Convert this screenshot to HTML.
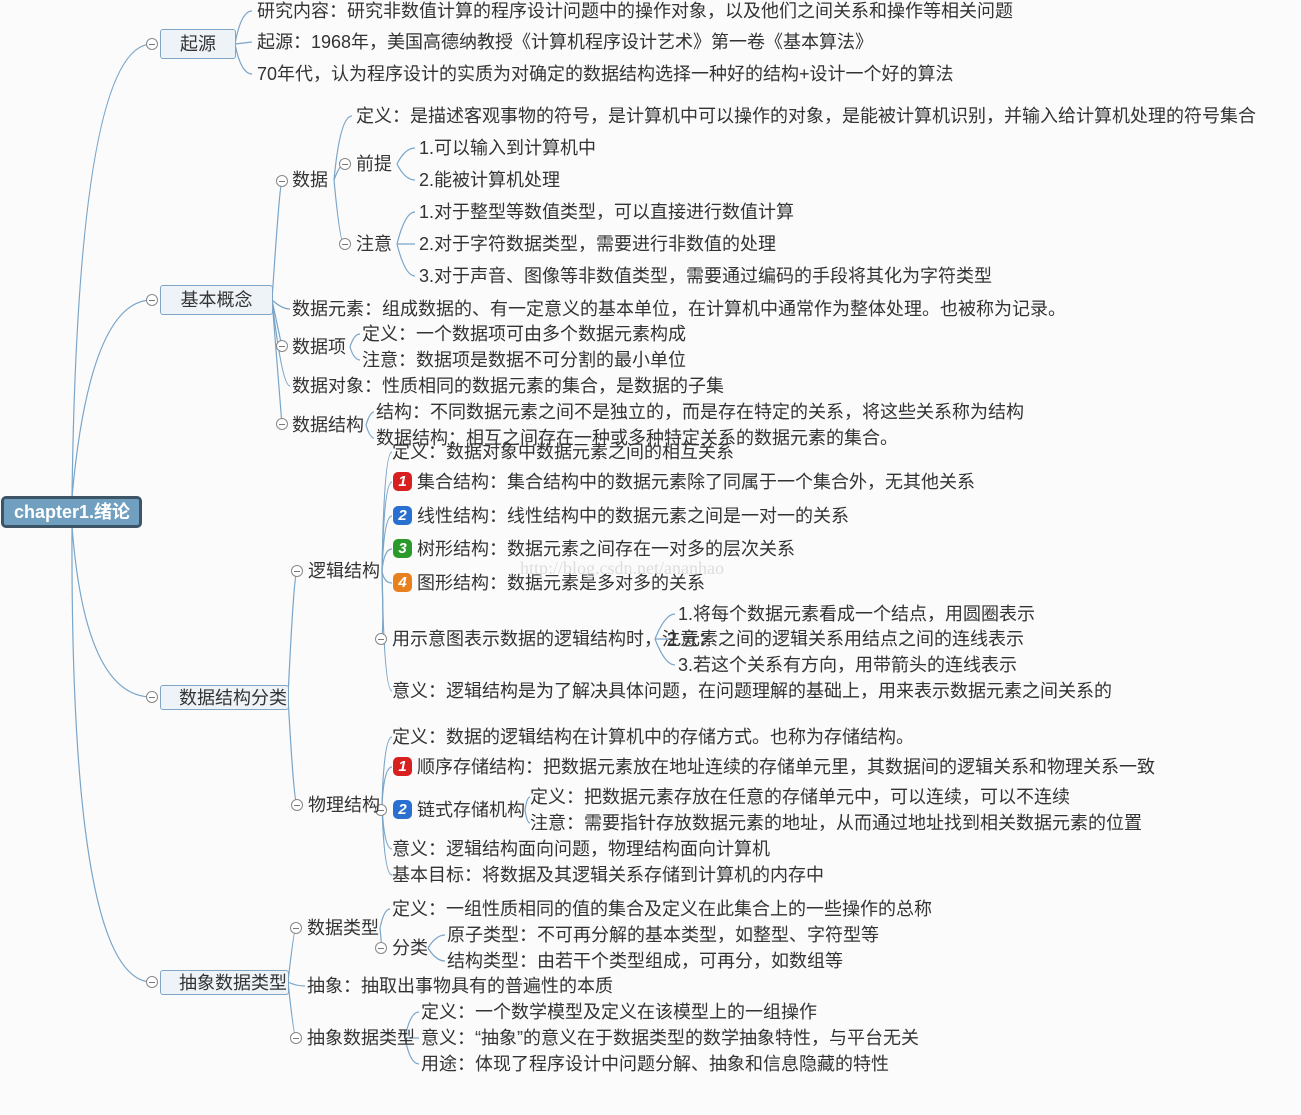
<!DOCTYPE html>
<html><head><meta charset="utf-8"><style>
body{margin:0;width:1301px;height:1115px;background:#fbfbfc;position:relative;overflow:hidden;font-family:"Liberation Sans","Noto Sans CJK SC",sans-serif;}
.t{position:absolute;font-size:18px;line-height:22px;color:#333;white-space:nowrap;}
.box{position:absolute;border:1px solid #7fa6c6;border-radius:3px;background:#eef3f8;font-size:18px;color:#333;line-height:28px;text-align:center;box-sizing:border-box;}
.c{position:absolute;width:12px;height:12px;border:1px solid #888;border-radius:50%;background:#fff;box-sizing:border-box;}
.c:after{content:"";position:absolute;left:2px;right:2px;top:5px;height:1px;background:#777;}
.ic{position:absolute;width:19px;height:19px;border-radius:5px;color:#fff;font:bold italic 15px "Liberation Sans",sans-serif;text-align:center;line-height:19px;}
svg{position:absolute;left:0;top:0}
</style></head><body>
<svg width="1301" height="1115" fill="none" stroke="#7aa5c8" stroke-width="1.2">
<path d="M72 497 Q78 44 152 44"/><path d="M72 497 Q90 300 152 300"/><path d="M72 526 Q85 697 152 697"/><path d="M72 526 Q70 982 152 982"/>
<path d="M235 44 Q241 11 252 11"/><path d="M235 44 L252 42"/><path d="M235 44 Q241 74 252 74"/>
<path d="M272 300 Q280 180 282 180"/><path d="M272 300 Q282 309 290 309"/><path d="M272 300 Q282 347 282 347"/><path d="M272 300 Q282 386 290 386"/><path d="M272 300 Q282 425 282 425"/>
<path d="M334 180 Q340 116 352 116"/><path d="M334 180 Q340 164 344 164"/><path d="M334 180 Q340 244 344 244"/>
<path d="M397 164 Q405 148 415 148"/><path d="M397 164 Q405 180 415 180"/>
<path d="M397 244 Q405 212 415 212"/><path d="M397 244 L415 244"/><path d="M397 244 Q405 276 415 276"/>
<path d="M350 347 Q354 334 360 334"/><path d="M350 347 Q354 360 360 360"/>
<path d="M366 425 Q370 412 374 412"/><path d="M366 425 Q370 438 374 438"/>
<path d="M288 697 Q294 571 297 571"/><path d="M288 697 Q294 805 297 805"/>
<path d="M382 571 Q384 452 392 452"/><path d="M382 571 Q384 482 392 482"/><path d="M382 571 Q384 516 392 516"/><path d="M382 571 Q384 549 392 549"/><path d="M382 571 Q384 583 392 583"/><path d="M382 571 Q384 639 381 639"/><path d="M382 571 Q384 691 392 691"/>
<path d="M655 639 Q665 614 675 614"/><path d="M655 639 L675 639"/><path d="M655 639 Q665 665 675 665"/>
<path d="M382 805 Q384 737 392 737"/><path d="M382 805 Q384 767 392 767"/><path d="M382 805 Q384 810 381 810"/><path d="M382 805 Q384 849 392 849"/><path d="M382 805 Q384 875 392 875"/>
<path d="M525 810 Q527 797 530 797"/><path d="M525 810 Q527 823 530 823"/>
<path d="M288 982 Q294 928 296 928"/><path d="M288 982 Q296 986 305 986"/><path d="M288 982 Q294 1038 296 1038"/>
<path d="M380 928 Q384 909 390 909"/><path d="M380 928 Q382 948 381 948"/>
<path d="M428 948 Q436 935 445 935"/><path d="M428 948 Q436 961 445 961"/>
<path d="M405 1038 Q410 1012 419 1012"/><path d="M405 1038 L419 1038"/><path d="M405 1038 Q410 1064 419 1064"/>
</svg>
<div style="position:absolute;left:1px;top:496px;width:141px;height:32px;box-sizing:border-box;background:#709fbf;border:3px solid #3d5566;border-radius:5px;color:#fff;font:bold 18px 'Liberation Sans','Noto Sans CJK SC',sans-serif;line-height:26px;padding-left:10px;">chapter1.绪论</div>
<div class="box" style="left:160px;top:29px;width:76px;height:30px">起源</div>
<div class="box" style="left:160px;top:285px;width:113px;height:30px">基本概念</div>
<div class="box" style="left:160px;top:685px;width:129px;height:25px;line-height:24px;text-align:right;padding-right:1px">数据结构分类</div>
<div class="box" style="left:160px;top:970px;width:129px;height:25px;line-height:24px;text-align:right;padding-right:1px">抽象数据类型</div>
<div class="c" style="left:146px;top:38px"></div><div class="c" style="left:146px;top:294px"></div><div class="c" style="left:146px;top:691px"></div><div class="c" style="left:146px;top:976px"></div>
<div class="c" style="left:276px;top:175px"></div><div class="c" style="left:339px;top:158px"></div><div class="c" style="left:339px;top:238px"></div><div class="c" style="left:276px;top:340px"></div><div class="c" style="left:276px;top:418px"></div>
<div class="c" style="left:291px;top:565px"></div><div class="c" style="left:375px;top:633px"></div><div class="c" style="left:291px;top:799px"></div><div class="c" style="left:375px;top:804px"></div>
<div class="c" style="left:290px;top:922px"></div><div class="c" style="left:375px;top:942px"></div><div class="c" style="left:290px;top:1032px"></div>
<div class="t" style="left:257px;top:0px">研究内容：研究非数值计算的程序设计问题中的操作对象，以及他们之间关系和操作等相关问题</div>
<div class="t" style="left:257px;top:31px">起源：1968年，美国高德纳教授《计算机程序设计艺术》第一卷《基本算法》</div>
<div class="t" style="left:257px;top:63px">70年代，认为程序设计的实质为对确定的数据结构选择一种好的结构+设计一个好的算法</div>
<div class="t" style="left:356px;top:105px">定义：是描述客观事物的符号，是计算机中可以操作的对象，是能被计算机识别，并输入给计算机处理的符号集合</div>
<div class="t" style="left:292px;top:169px">数据</div>
<div class="t" style="left:356px;top:153px">前提</div>
<div class="t" style="left:419px;top:137px">1.可以输入到计算机中</div>
<div class="t" style="left:419px;top:169px">2.能被计算机处理</div>
<div class="t" style="left:356px;top:233px">注意</div>
<div class="t" style="left:419px;top:201px">1.对于整型等数值类型，可以直接进行数值计算</div>
<div class="t" style="left:419px;top:233px">2.对于字符数据类型，需要进行非数值的处理</div>
<div class="t" style="left:419px;top:265px">3.对于声音、图像等非数值类型，需要通过编码的手段将其化为字符类型</div>
<div class="t" style="left:292px;top:298px">数据元素：组成数据的、有一定意义的基本单位，在计算机中通常作为整体处理。也被称为记录。</div>
<div class="t" style="left:292px;top:336px">数据项</div>
<div class="t" style="left:362px;top:323px">定义：一个数据项可由多个数据元素构成</div>
<div class="t" style="left:362px;top:349px">注意：数据项是数据不可分割的最小单位</div>
<div class="t" style="left:292px;top:375px">数据对象：性质相同的数据元素的集合，是数据的子集</div>
<div class="t" style="left:292px;top:414px">数据结构</div>
<div class="t" style="left:376px;top:401px">结构：不同数据元素之间不是独立的，而是存在特定的关系，将这些关系称为结构</div>
<div class="t" style="left:376px;top:427px">数据结构：相互之间存在一种或多种特定关系的数据元素的集合。</div>
<div class="t" style="left:392px;top:441px">定义：数据对象中数据元素之间的相互关系</div>
<div class="ic" style="left:393px;top:472px;background:#d82020">1</div><div class="t" style="left:417px;top:471px">集合结构：集合结构中的数据元素除了同属于一个集合外，无其他关系</div>
<div class="ic" style="left:393px;top:506px;background:#2a70d0">2</div><div class="t" style="left:417px;top:505px">线性结构：线性结构中的数据元素之间是一对一的关系</div>
<div class="ic" style="left:393px;top:539px;background:#2a9a2a">3</div><div class="t" style="left:417px;top:538px">树形结构：数据元素之间存在一对多的层次关系</div>
<div class="ic" style="left:393px;top:573px;background:#e88020">4</div><div class="t" style="left:417px;top:572px">图形结构：数据元素是多对多的关系</div>
<div class="t" style="left:520px;top:557px;font-family:'Liberation Serif',serif;color:#ddd">http://blog.csdn.net/ananhao</div>
<div class="t" style="left:308px;top:560px">逻辑结构</div>
<div class="t" style="left:392px;top:628px">用示意图表示数据的逻辑结构时，注意：</div>
<div class="t" style="left:678px;top:603px">1.将每个数据元素看成一个结点，用圆圈表示</div>
<div class="t" style="left:667px;top:628px">2.元素之间的逻辑关系用结点之间的连线表示</div>
<div class="t" style="left:678px;top:654px">3.若这个关系有方向，用带箭头的连线表示</div>
<div class="t" style="left:392px;top:680px">意义：逻辑结构是为了解决具体问题，在问题理解的基础上，用来表示数据元素之间关系的</div>
<div class="t" style="left:392px;top:726px">定义：数据的逻辑结构在计算机中的存储方式。也称为存储结构。</div>
<div class="ic" style="left:393px;top:757px;background:#d82020">1</div><div class="t" style="left:417px;top:756px">顺序存储结构：把数据元素放在地址连续的存储单元里，其数据间的逻辑关系和物理关系一致</div>
<div class="ic" style="left:393px;top:800px;background:#2a70d0">2</div><div class="t" style="left:417px;top:799px">链式存储机构</div>
<div class="t" style="left:530px;top:786px">定义：把数据元素存放在任意的存储单元中，可以连续，可以不连续</div>
<div class="t" style="left:530px;top:812px">注意：需要指针存放数据元素的地址，从而通过地址找到相关数据元素的位置</div>
<div class="t" style="left:392px;top:838px">意义：逻辑结构面向问题，物理结构面向计算机</div>
<div class="t" style="left:392px;top:864px">基本目标：将数据及其逻辑关系存储到计算机的内存中</div>
<div class="t" style="left:308px;top:794px">物理结构</div>
<div class="t" style="left:307px;top:917px">数据类型</div>
<div class="t" style="left:392px;top:898px">定义：一组性质相同的值的集合及定义在此集合上的一些操作的总称</div>
<div class="t" style="left:392px;top:937px">分类</div>
<div class="t" style="left:447px;top:924px">原子类型：不可再分解的基本类型，如整型、字符型等</div>
<div class="t" style="left:447px;top:950px">结构类型：由若干个类型组成，可再分，如数组等</div>
<div class="t" style="left:307px;top:975px">抽象：抽取出事物具有的普遍性的本质</div>
<div class="t" style="left:307px;top:1027px">抽象数据类型</div>
<div class="t" style="left:421px;top:1001px">定义：一个数学模型及定义在该模型上的一组操作</div>
<div class="t" style="left:421px;top:1027px">意义：“抽象”的意义在于数据类型的数学抽象特性，与平台无关</div>
<div class="t" style="left:421px;top:1053px">用途：体现了程序设计中问题分解、抽象和信息隐藏的特性</div>
</body></html>
